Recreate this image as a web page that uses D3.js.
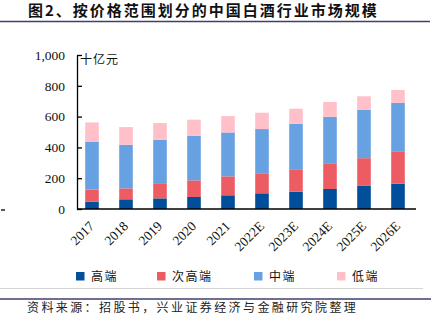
<!DOCTYPE html>
<html>
<head>
<meta charset="utf-8">
<script src="https://cdn.jsdelivr.net/npm/d3@7"></script>
<style>
  html, body { margin: 0; padding: 0; background: #fff; }
  svg { display: block; }
  .cjk { font-family: "Noto Sans CJK SC", sans-serif; }
  .num { font-family: "Liberation Serif", "Times New Roman", serif; }
</style>
</head>
<body>
<svg id="chart" width="437" height="323"></svg>
<script>
// 中国白酒行业市场规模（十亿元），按价格带堆叠
const years = ["2017", "2018", "2019", "2020", "2021", "2022E", "2023E", "2024E", "2025E", "2026E"];
const highEnd = [48, 63, 69, 78, 89, 102, 113, 130, 150, 165];        // 高端
const subHighEnd = [78, 71, 94, 108, 123, 130, 145, 163, 180, 206];   // 次高端
const midEnd = [312, 283, 287, 290, 285, 287, 295, 306, 313, 318];    // 中端
const lowEnd = [124, 115, 108, 104, 106, 106, 98, 96, 89, 84];        // 低端
const seriesNames = ["高端", "次高端", "中端", "低端"];
const yTicks = [0, 200, 400, 600, 800, 1000];

const colors = ["#014e9a", "#ee5c63", "#67a1e1", "#ffc0ca"];

const svg = d3.select("#chart");

// 标题与分隔线
svg.append("text").attr("class", "cjk")
  .attr("x", 28).attr("y", 16)
  .attr("font-size", 15).attr("font-weight", 700)
  .attr("letter-spacing", 2)
  .attr("fill", "#111")
  .text("图2、按价格范围划分的中国白酒行业市场规模");
svg.append("line").attr("x1", 0).attr("x2", 430).attr("y1", 21.5).attr("y2", 21.5)
  .attr("stroke", "#3f3f70").attr("stroke-width", 1.5);

// 堆叠数据
const rows = years.map((yr, i) => ({
  year: yr,
  "高端": highEnd[i],
  "次高端": subHighEnd[i],
  "中端": midEnd[i],
  "低端": lowEnd[i]
}));
const stacked = d3.stack().keys(seriesNames)(rows);

const x = d3.scaleBand().domain(years).range([75, 415]).paddingInner(0.6).paddingOuter(0.3);
const y = d3.scaleLinear().domain([0, 1000]).range([209, 55]);

// 柱子
svg.append("g").selectAll("g")
  .data(stacked)
  .join("g")
  .attr("fill", (d, i) => colors[i])
  .selectAll("rect")
  .data(d => d)
  .join("rect")
  .attr("x", d => x(d.data.year))
  .attr("width", x.bandwidth())
  .attr("y", d => y(d[1]))
  .attr("height", d => y(d[0]) - y(d[1]));

// Y 轴（刻度朝内）
const yAxis = svg.append("g")
  .attr("transform", "translate(77,0)")
  .call(d3.axisLeft(y).tickValues(yTicks).tickFormat(d3.format(","))
    .tickSizeInner(-5).tickSizeOuter(0).tickPadding(12));
yAxis.select(".domain").attr("stroke", "#000").attr("stroke-width", 1.3);
yAxis.selectAll(".tick line").attr("stroke", "#000").attr("stroke-width", 1.3);
yAxis.selectAll("text").attr("class", "num").attr("font-size", 13.5).attr("fill", "#111");

// 单位
svg.append("text").attr("class", "cjk")
  .attr("x", 80).attr("y", 64)
  .attr("font-size", 12).attr("letter-spacing", 1)
  .attr("fill", "#111").text("十亿元");

// X 轴
const xAxis = svg.append("g")
  .attr("transform", "translate(0,209)")
  .call(d3.axisBottom(x).tickSize(0).tickPadding(0));
xAxis.select(".domain").remove();
xAxis.selectAll("text")
  .attr("class", "num")
  .attr("font-size", 13.5)
  .attr("fill", "#111")
  .attr("text-anchor", "end")
  .attr("dy", 0)
  .attr("transform", "translate(3,18) rotate(-45)");
svg.append("line").attr("x1", 77).attr("x2", 416).attr("y1", 209).attr("y2", 209)
  .attr("stroke", "#000").attr("stroke-width", 1.5);

// 左侧小短线
svg.append("line").attr("x1", 1).attr("x2", 5).attr("y1", 210).attr("y2", 210)
  .attr("stroke", "#222").attr("stroke-width", 1.5);

// 图例
const legendX = [76, 157, 254, 337];
const legend = svg.append("g").selectAll("g")
  .data(seriesNames)
  .join("g")
  .attr("transform", (d, i) => `translate(${legendX[i]},272)`);
legend.append("rect").attr("width", 8.5).attr("height", 8.5)
  .attr("fill", (d, i) => colors[i]);
legend.append("text").attr("class", "cjk")
  .attr("x", 15).attr("y", 8.5)
  .attr("font-size", 12).attr("letter-spacing", 1.5)
  .attr("fill", "#111").text(d => d);

// 底部分隔线与资料来源
svg.append("line").attr("x1", 0).attr("x2", 423).attr("y1", 288.5).attr("y2", 288.5)
  .attr("stroke", "#d4d4d4").attr("stroke-width", 1);
svg.append("line").attr("x1", 0).attr("x2", 431).attr("y1", 299).attr("y2", 299)
  .attr("stroke", "#3f3f70").attr("stroke-width", 1.5);
svg.append("text").attr("class", "cjk")
  .attr("x", 27).attr("y", 312)
  .attr("font-size", 12).attr("letter-spacing", 2.4)
  .attr("fill", "#222")
  .text("资料来源：招股书，兴业证券经济与金融研究院整理");
</script>
</body>
</html>
